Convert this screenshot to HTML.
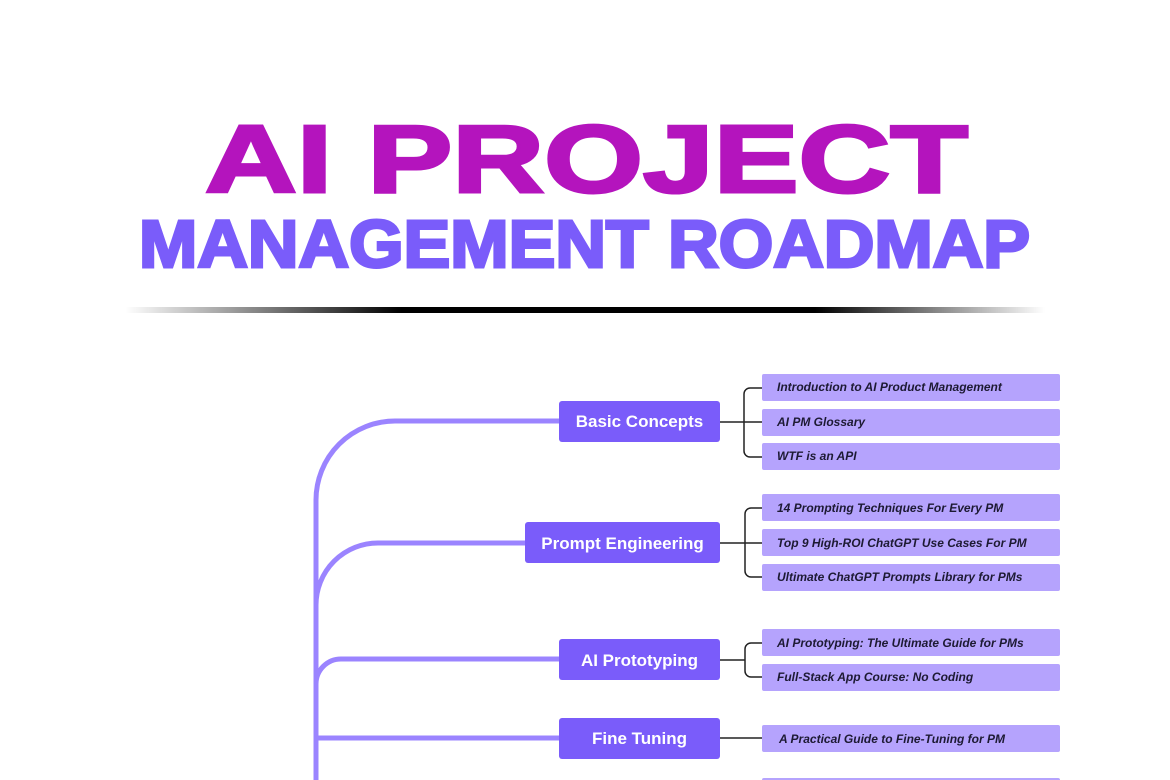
<!DOCTYPE html>
<html><head><meta charset="utf-8"><style>
html,body{margin:0;padding:0;background:#fff;}
svg{display:block}
.it{font-family:"Liberation Sans",sans-serif;font-style:italic;font-weight:bold;font-size:12px;fill:#1d1a33}
.bx{font-family:"Liberation Sans",sans-serif;font-weight:bold;font-size:17px;fill:#fff}
</style></head><body>
<svg width="1170" height="780" viewBox="0 0 1170 780" xmlns="http://www.w3.org/2000/svg">
<defs>
<linearGradient id="g" x1="0" x2="1" y1="0" y2="0">
<stop offset="0" stop-color="#000" stop-opacity="0"/>
<stop offset="0.3" stop-color="#000" stop-opacity="1"/>
<stop offset="0.75" stop-color="#000" stop-opacity="1"/>
<stop offset="1" stop-color="#000" stop-opacity="0"/>
</linearGradient>
</defs>
<text x="205" y="192" font-family="Liberation Sans, sans-serif" font-weight="bold" font-size="96" fill="#b414bd" stroke="#b414bd" stroke-width="3" stroke-linejoin="miter" textLength="763" lengthAdjust="spacingAndGlyphs">AI PROJECT</text>
<text x="139" y="267" font-family="Liberation Sans, sans-serif" font-weight="bold" font-size="67" fill="#7a5cfa" stroke="#7a5cfa" stroke-width="3" stroke-linejoin="miter" textLength="891" lengthAdjust="spacingAndGlyphs">MANAGEMENT ROADMAP</text>
<rect x="125" y="307" width="920" height="6" fill="url(#g)"/>

<g fill="none" stroke="#9b84ff" stroke-width="5">
<path d="M316 780 V500 A79 79 0 0 1 395 421 H560"/>
<path d="M316 605 A62 62 0 0 1 378 543 H526"/>
<path d="M316 684 A25 25 0 0 1 341 659 H560"/>
<path d="M316 738 H560"/>
</g>

<g fill="#7a5cfa">
<rect x="559" y="401" width="161" height="41" rx="3"/>
<rect x="525" y="522" width="195" height="41" rx="3"/>
<rect x="559" y="639" width="161" height="41" rx="3"/>
<rect x="559" y="718" width="161" height="41" rx="3"/>
</g>
<g class="bx" text-anchor="middle">
<text x="639.5" y="427">Basic Concepts</text>
<text x="622.5" y="549">Prompt Engineering</text>
<text x="639.5" y="666">AI Prototyping</text>
<text x="639.5" y="744">Fine Tuning</text>
</g>

<g fill="none" stroke="#222" stroke-width="1.5">
<path d="M720 422 H744 M762 388 H750 A6 6 0 0 0 744 394 V451 A6 6 0 0 0 750 457 H762 M744 422 H762"/>
<path d="M720 543 H745 M762 508 H751 A6 6 0 0 0 745 514 V571 A6 6 0 0 0 751 577 H762 M745 543 H762"/>
<path d="M720 660 H745 M762 643 H751 A6 6 0 0 0 745 649 V671 A6 6 0 0 0 751 677 H762"/>
<path d="M720 738 H762"/>
</g>

<g fill="#b5a3fd">
<rect x="762" y="374" width="298" height="27" rx="2"/>
<rect x="762" y="409" width="298" height="27" rx="2"/>
<rect x="762" y="443" width="298" height="27" rx="2"/>
<rect x="762" y="494" width="298" height="27" rx="2"/>
<rect x="762" y="529" width="298" height="27" rx="2"/>
<rect x="762" y="564" width="298" height="27" rx="2"/>
<rect x="762" y="629" width="298" height="27" rx="2"/>
<rect x="762" y="664" width="298" height="27" rx="2"/>
<rect x="762" y="725" width="298" height="27" rx="2"/>
<rect x="762" y="778" width="298" height="27" rx="2"/>
</g>
<g class="it">
<text x="777" y="391">Introduction to AI Product Management</text>
<text x="777" y="426">AI PM Glossary</text>
<text x="777" y="460">WTF is an API</text>
<text x="777" y="512">14 Prompting Techniques For Every PM</text>
<text x="777" y="547">Top 9 High-ROI ChatGPT Use Cases For PM</text>
<text x="777" y="581">Ultimate ChatGPT Prompts Library for PMs</text>
<text x="777" y="647">AI Prototyping: The Ultimate Guide for PMs</text>
<text x="777" y="681">Full-Stack App Course: No Coding</text>
<text x="779" y="743">A Practical Guide to Fine-Tuning for PM</text>
</g>
</svg>
</body></html>
